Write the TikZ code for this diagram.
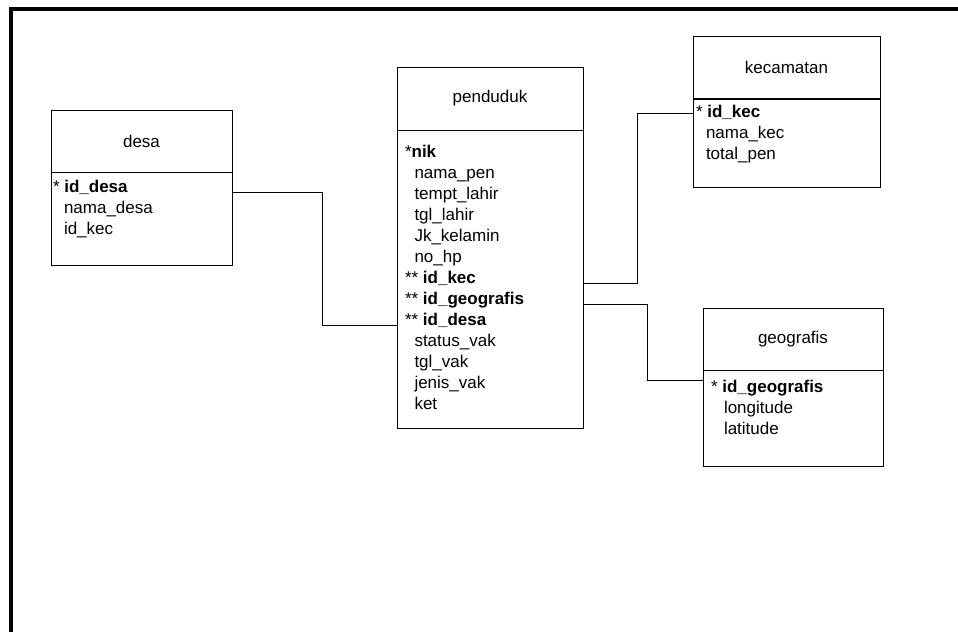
\documentclass[tikz,border=0pt]{standalone}
\usepackage{fontspec}
\setmainfont{Liberation Sans}
\begin{document}
\begin{tikzpicture}[x=1pt,y=-1pt,
  box/.style={draw=black, line width=0.9pt, inner sep=0pt, outer sep=0pt, anchor=north west},
  row/.style={anchor=base west, inner sep=0pt, outer sep=0pt, text height=12pt, text depth=4pt},
  conn/.style={draw=black, line width=0.9pt},
  every node/.style={font=\fontsize{17}{21}\selectfont}]
\useasboundingbox (0,0) rectangle (958,632);
% outer frame
\draw[line width=4pt] (958,9.3) -- (11.3,9.3) -- (11.3,632);

% desa
\node[box, minimum width=181pt, minimum height=62pt] (dh) at (51,110) {desa};
\node[box, minimum width=181pt, minimum height=93pt] (db) at (dh.south west) {};
\node[row] (d1) at (53,192.5) {* \textbf{id\_desa}};
\node[row] (d2) at (64,213.5) {nama\_desa};
\node[row] (d3) at (64,234.5) {id\_kec};

% penduduk
\node[box, minimum width=186pt, minimum height=63pt] (ph) at (397,67) {penduduk};
\node[box, minimum width=186pt, minimum height=298pt] (pb) at (ph.south west) {};
\node[row] (p1) at (405,157.5) {*\textbf{nik}};
\node[row] (p2) at (414.5,178.5) {nama\_pen};
\node[row] (p3) at (414.5,199.5) {tempt\_lahir};
\node[row] (p4) at (414.5,220.5) {tgl\_lahir};
\node[row] (p5) at (414.5,241.5) {Jk\_kelamin};
\node[row] (p6) at (414.5,262.5) {no\_hp};
\node[row] (p7) at (405,283.5) {** \textbf{id\_kec}};
\node[row] (p8) at (405,304.5) {** \textbf{id\_geografis}};
\node[row] (p9) at (405,325.5) {** \textbf{id\_desa}};
\node[row] (p10) at (414.5,346.5) {status\_vak};
\node[row] (p11) at (414.5,367.5) {tgl\_vak};
\node[row] (p12) at (414.5,388.5) {jenis\_vak};
\node[row] (p13) at (414.5,409.5) {ket};

% kecamatan
\node[box, minimum width=187pt, minimum height=62pt] (kh) at (693,36) {kecamatan};
\node[box, minimum width=187pt, minimum height=88pt] (kb) at (693,99.3) {};
\node[row] (k1) at (696,117.3) {* \textbf{id\_kec}};
\node[row] (k2) at (706,138.3) {nama\_kec};
\node[row] (k3) at (706,159.3) {total\_pen};

% geografis
\node[box, minimum width=180pt, minimum height=62pt] (gh) at (703,308) {geografis};
\node[box, minimum width=180pt, minimum height=96pt] (gb) at (gh.south west) {};
\node[row] (g1) at (711,392.3) {* \textbf{id\_geografis}};
\node[row] (g2) at (724,413.3) {longitude};
\node[row] (g3) at (724,434.3) {latitude};

% connectors
\coordinate (j1) at (322,0);
\coordinate (j2) at (637,0);
\coordinate (j3) at (647,0);
\draw[conn] (db.east |- d1.base) -- (j1 |- d1.base) -- (j1 |- p9.base) -- (pb.west |- p9.base);
\draw[conn] (pb.east |- p7.base) -- (j2 |- p7.base) -- (j2 |- k1.center) -- (kb.west |- k1.center);
\draw[conn] (pb.east |- p8.base) -- (j3 |- p8.base) -- (j3 |- g1.north) -- (gb.west |- g1.north);
\end{tikzpicture}
\end{document}
